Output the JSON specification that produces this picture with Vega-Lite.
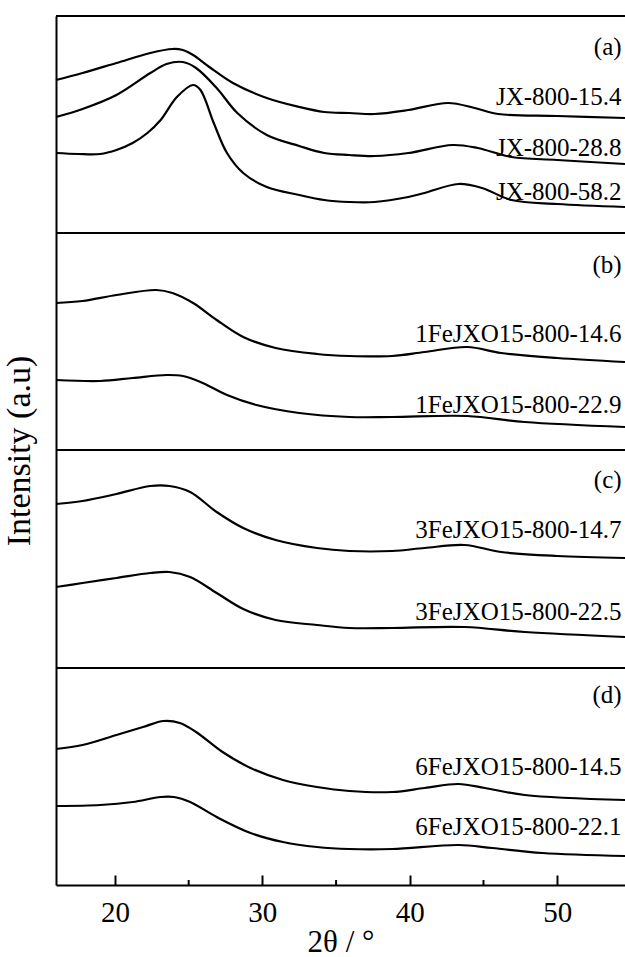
{
  "$schema": "https://vega.github.io/schema/vega-lite/v6.json",
  "autosize": {"type": "none"},
  "padding": {"left": 56, "top": 16, "right": 0, "bottom": 72},
  "width": 569,
  "height": 869,
  "background": "white",
  "config": {"view": {"stroke": null}, "font": "Liberation Serif"},
  "datasets": {
    "xrd": [
      {"s":"a1","t":16.0,"i":805},{"s":"a1","t":17.8,"i":812},{"s":"a1","t":20.1,"i":822},{"s":"a1","t":22.4,"i":832},{"s":"a1","t":23.9,"i":836},{"s":"a1","t":24.6,"i":835},{"s":"a1","t":25.3,"i":830},{"s":"a1","t":26.4,"i":818},{"s":"a1","t":28.0,"i":802},{"s":"a1","t":30.3,"i":787},{"s":"a1","t":32.5,"i":778},{"s":"a1","t":34.2,"i":773},{"s":"a1","t":35.9,"i":772},{"s":"a1","t":37.6,"i":771},{"s":"a1","t":39.9,"i":775},{"s":"a1","t":42.6,"i":782},{"s":"a1","t":44.4,"i":777},{"s":"a1","t":46.0,"i":771},{"s":"a1","t":50.0,"i":769},{"s":"a1","t":54.6,"i":767},
      {"s":"a2","t":16.0,"i":768},{"s":"a2","t":17.8,"i":776},{"s":"a2","t":20.1,"i":790},{"s":"a2","t":22.4,"i":812},{"s":"a2","t":23.5,"i":821},{"s":"a2","t":24.6,"i":823},{"s":"a2","t":25.5,"i":817},{"s":"a2","t":26.9,"i":797},{"s":"a2","t":28.3,"i":772},{"s":"a2","t":30.3,"i":750},{"s":"a2","t":32.5,"i":739},{"s":"a2","t":34.2,"i":732},{"s":"a2","t":35.9,"i":730},{"s":"a2","t":37.6,"i":729},{"s":"a2","t":39.9,"i":732},{"s":"a2","t":42.9,"i":740},{"s":"a2","t":44.6,"i":737},{"s":"a2","t":46.9,"i":728},{"s":"a2","t":50.0,"i":725},{"s":"a2","t":54.6,"i":721},
      {"s":"a3","t":16.0,"i":732},{"s":"a3","t":17.5,"i":731},{"s":"a3","t":19.0,"i":731},{"s":"a3","t":20.1,"i":735},{"s":"a3","t":21.2,"i":742},{"s":"a3","t":22.2,"i":752},{"s":"a3","t":23.1,"i":765},{"s":"a3","t":24.2,"i":788},{"s":"a3","t":25.3,"i":800},{"s":"a3","t":25.8,"i":795},{"s":"a3","t":26.7,"i":762},{"s":"a3","t":27.6,"i":732},{"s":"a3","t":28.7,"i":712},{"s":"a3","t":30.3,"i":698},{"s":"a3","t":32.5,"i":690},{"s":"a3","t":34.2,"i":685},{"s":"a3","t":35.9,"i":683},{"s":"a3","t":37.6,"i":683},{"s":"a3","t":39.9,"i":688},{"s":"a3","t":41.0,"i":692},{"s":"a3","t":43.3,"i":701},{"s":"a3","t":44.9,"i":697},{"s":"a3","t":46.9,"i":685},{"s":"a3","t":50.0,"i":681},{"s":"a3","t":54.6,"i":678},
      {"s":"b1","t":16.0,"i":582},{"s":"b1","t":17.8,"i":584},{"s":"b1","t":20.1,"i":590},{"s":"b1","t":22.8,"i":595},{"s":"b1","t":23.9,"i":592},{"s":"b1","t":25.3,"i":582},{"s":"b1","t":26.9,"i":565},{"s":"b1","t":28.7,"i":548},{"s":"b1","t":30.9,"i":537},{"s":"b1","t":33.7,"i":531},{"s":"b1","t":35.9,"i":529},{"s":"b1","t":38.8,"i":529},{"s":"b1","t":41.0,"i":533},{"s":"b1","t":43.9,"i":538},{"s":"b1","t":46.2,"i":532},{"s":"b1","t":50.0,"i":527},{"s":"b1","t":54.6,"i":523},
      {"s":"b2","t":16.0,"i":505},{"s":"b2","t":19.0,"i":504},{"s":"b2","t":21.2,"i":507},{"s":"b2","t":23.5,"i":510},{"s":"b2","t":24.6,"i":509},{"s":"b2","t":25.8,"i":503},{"s":"b2","t":27.6,"i":490},{"s":"b2","t":29.6,"i":480},{"s":"b2","t":32.5,"i":472},{"s":"b2","t":35.9,"i":468},{"s":"b2","t":38.8,"i":468},{"s":"b2","t":43.9,"i":469},{"s":"b2","t":47.8,"i":463},{"s":"b2","t":54.6,"i":458},
      {"s":"c1","t":16.0,"i":381},{"s":"c1","t":17.8,"i":384},{"s":"c1","t":20.1,"i":391},{"s":"c1","t":22.4,"i":399},{"s":"c1","t":23.7,"i":399},{"s":"c1","t":25.1,"i":393},{"s":"c1","t":26.9,"i":373},{"s":"c1","t":28.7,"i":357},{"s":"c1","t":30.9,"i":345},{"s":"c1","t":33.7,"i":337},{"s":"c1","t":35.9,"i":334},{"s":"c1","t":38.8,"i":334},{"s":"c1","t":41.0,"i":337},{"s":"c1","t":43.7,"i":340},{"s":"c1","t":46.2,"i":333},{"s":"c1","t":50.0,"i":329},{"s":"c1","t":54.6,"i":327},
      {"s":"c2","t":16.0,"i":298},{"s":"c2","t":17.8,"i":302},{"s":"c2","t":20.1,"i":307},{"s":"c2","t":22.4,"i":312},{"s":"c2","t":23.7,"i":313},{"s":"c2","t":25.1,"i":308},{"s":"c2","t":26.9,"i":292},{"s":"c2","t":28.7,"i":276},{"s":"c2","t":30.9,"i":265},{"s":"c2","t":33.7,"i":260},{"s":"c2","t":35.9,"i":257},{"s":"c2","t":38.8,"i":257},{"s":"c2","t":43.7,"i":258},{"s":"c2","t":47.8,"i":253},{"s":"c2","t":54.6,"i":248},
      {"s":"d1","t":16.0,"i":136},{"s":"d1","t":17.8,"i":140},{"s":"d1","t":20.1,"i":150},{"s":"d1","t":21.9,"i":158},{"s":"d1","t":23.3,"i":164},{"s":"d1","t":24.4,"i":162},{"s":"d1","t":25.5,"i":153},{"s":"d1","t":27.3,"i":133},{"s":"d1","t":29.2,"i":117},{"s":"d1","t":31.4,"i":105},{"s":"d1","t":33.7,"i":98},{"s":"d1","t":35.9,"i":94},{"s":"d1","t":38.8,"i":93},{"s":"d1","t":41.0,"i":97},{"s":"d1","t":43.3,"i":101},{"s":"d1","t":45.1,"i":97},{"s":"d1","t":47.8,"i":90},{"s":"d1","t":54.6,"i":85},
      {"s":"d2","t":16.0,"i":79},{"s":"d2","t":19.0,"i":80},{"s":"d2","t":21.2,"i":83},{"s":"d2","t":23.1,"i":88},{"s":"d2","t":24.0,"i":88},{"s":"d2","t":25.1,"i":83},{"s":"d2","t":26.9,"i":68},{"s":"d2","t":29.2,"i":52},{"s":"d2","t":31.4,"i":43},{"s":"d2","t":33.7,"i":38},{"s":"d2","t":35.9,"i":36},{"s":"d2","t":38.8,"i":36},{"s":"d2","t":43.3,"i":40},{"s":"d2","t":45.6,"i":37},{"s":"d2","t":49.0,"i":32},{"s":"d2","t":54.6,"i":29}
    ],
    "dividers": [{"i":217},{"i":435},{"i":652},{"i":869}],
    "minor": [{"t":25},{"t":35},{"t":45}],
    "labels": [
      {"t":54.37,"i":838,"text":"(a)"},
      {"t":54.37,"i":788,"text":"JX-800-15.4"},
      {"t":54.37,"i":737,"text":"JX-800-28.8"},
      {"t":54.37,"i":693,"text":"JX-800-58.2"},
      {"t":54.37,"i":620,"text":"(b)"},
      {"t":54.37,"i":551,"text":"1FeJXO15-800-14.6"},
      {"t":54.37,"i":480,"text":"1FeJXO15-800-22.9"},
      {"t":54.37,"i":405,"text":"(c)"},
      {"t":54.37,"i":355,"text":"3FeJXO15-800-14.7"},
      {"t":54.37,"i":273,"text":"3FeJXO15-800-22.5"},
      {"t":54.37,"i":190,"text":"(d)"},
      {"t":54.37,"i":118,"text":"6FeJXO15-800-14.5"},
      {"t":54.37,"i":58,"text":"6FeJXO15-800-22.1"}
    ]
  },
  "layer": [
    {
      "data": {"name": "xrd"},
      "mark": {"type": "line", "color": "black", "strokeWidth": 2.2, "interpolate": "catmull-rom"},
      "encoding": {
        "x": {"field": "t", "type": "quantitative",
          "scale": {"domain": [16, 54.6], "nice": false, "zero": false},
          "axis": {"orient": "bottom", "values": [20, 30, 40, 50], "grid": false,
            "tickSize": -10, "tickWidth": 2, "tickColor": "black",
            "domainColor": "black", "domainWidth": 2,
            "labelFont": "Liberation Serif", "labelFontSize": 29, "labelColor": "black", "labelPadding": 23,
            "title": "2θ / °", "titleFont": "Liberation Serif", "titleFontSize": 31, "titleFontWeight": "normal", "titleColor": "black", "titlePadding": 0}},
        "y": {"field": "i", "type": "quantitative",
          "scale": {"domain": [0, 869], "nice": false, "zero": false},
          "axis": {"orient": "left", "grid": false, "ticks": false, "labels": false,
            "domainColor": "black", "domainWidth": 2,
            "title": "Intensity (a.u)", "titleFont": "Liberation Serif", "titleFontSize": 34, "titleFontWeight": "normal", "titleColor": "black", "titlePadding": 20}},
        "detail": {"field": "s", "type": "nominal"}
      }
    },
    {
      "data": {"name": "dividers"},
      "mark": {"type": "rule", "color": "black", "strokeWidth": 2},
      "encoding": {"y": {"field": "i", "type": "quantitative"}}
    },
    {
      "data": {"name": "minor"},
      "mark": {"type": "rule", "color": "black", "strokeWidth": 2},
      "encoding": {
        "x": {"field": "t", "type": "quantitative"},
        "y": {"datum": 0},
        "y2": {"datum": 5}
      }
    },
    {
      "data": {"name": "labels"},
      "mark": {"type": "text", "align": "right", "baseline": "middle", "font": "Liberation Serif", "fontSize": 25, "color": "black"},
      "encoding": {
        "x": {"field": "t", "type": "quantitative"},
        "y": {"field": "i", "type": "quantitative"},
        "text": {"field": "text"}
      }
    }
  ]
}
